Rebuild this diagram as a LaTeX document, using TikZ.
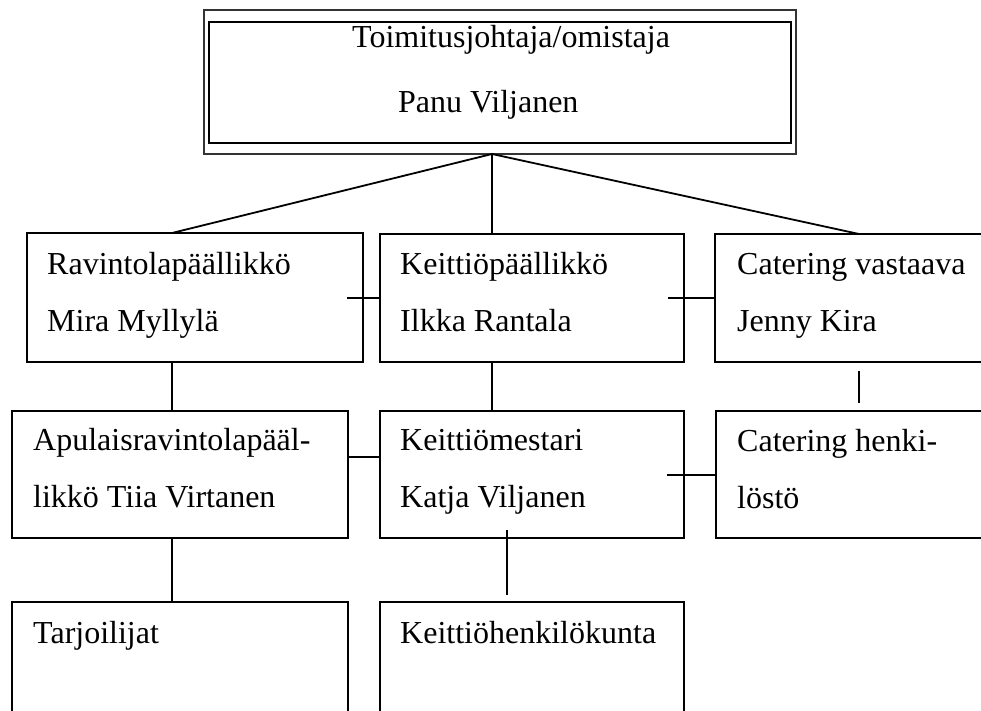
\documentclass[tikz,border=0pt]{standalone}
\usepackage{fontspec}
\setmainfont{Liberation Serif}
\usetikzlibrary{calc}
\begin{document}
\begin{tikzpicture}[x=1pt,y=-1pt,
  box/.style={draw=black, line width=1.8pt, inner sep=0pt, outer sep=0pt, rectangle},
  conn/.style={draw=black, line width=1.8pt},
  lbl/.style={anchor=base west, inner sep=0pt, font=\fontsize{32}{38}\selectfont}]
\useasboundingbox (0,0) rectangle (981,711);
\clip (0,0) rectangle (981,711);
% top box (double frame)
\node[box, draw=black!80, line width=1.5pt, minimum width=592pt, minimum height=144pt] (topo) at (500,82) {};
\node[box, line width=2.2pt, minimum width=582pt, minimum height=121pt] (topi) at (500,82.5) {};
\node[lbl] (t1) at (352,48) {Toimitusjohtaja/omistaja};
\node[lbl] (t2) at (398,113) {Panu Viljanen};
% row 1
\node[box, minimum width=336pt, minimum height=129pt] (rav) at (195,297.5) {};
\node[box, minimum width=304pt, minimum height=128pt] (kp) at (532,298) {};
\node[box, minimum width=285pt, minimum height=128pt] (cat) at (857.5,298) {};
% row 2
\node[box, minimum width=336pt, minimum height=127pt] (apu) at (180,474.5) {};
\node[box, minimum width=304pt, minimum height=127pt] (km) at (532,474.5) {};
\node[box, minimum width=284pt, minimum height=127pt] (ch) at (858,474.5) {};
% row 3
\node[box, minimum width=336pt, minimum height=118pt] (tar) at (180,661) {};
\node[box, minimum width=304pt, minimum height=118pt] (kh) at (532,661) {};
% texts
\node[lbl] at (47,274) {Ravintolapäällikkö};
\node[lbl] at (47,331) {Mira Myllylä};
\node[lbl] at (400,274) {Keittiöpäällikkö};
\node[lbl] at (400,331) {Ilkka Rantala};
\node[lbl] at (737,274) {Catering vastaava};
\node[lbl] at (737,331) {Jenny Kira};
\node[lbl] at (33,450) {Apulaisravintolapääl-};
\node[lbl] at (33,507) {likkö Tiia Virtanen};
\node[lbl] at (400,450) {Keittiömestari};
\node[lbl] at (400,507) {Katja Viljanen};
\node[lbl] at (737,451) {Catering henki-};
\node[lbl] at (737,508) {löstö};
\node[lbl] at (33,643) {Tarjoilijat};
\node[lbl] at (400,643) {Keittiöhenkilökunta};
% connectors
\coordinate (apex) at ($(topo.south)+(-8,0)$);
\draw[conn] (apex) -- ($(rav.north west)+(145,0)$);
\draw[conn] (apex) -- ($(kp.north west)+(112,0)$);
\draw[conn] (apex) -- ($(cat.north west)+(144,0)$);
\draw[conn] ($(rav.south west)+(145,0)$) -- ($(apu.north west)+(160,0)$);
\draw[conn] ($(kp.south west)+(112,0)$) -- ($(km.north west)+(112,0)$);
\draw[conn] ($(cat.south west)+(144,9)$) -- ($(ch.north west)+(143,-8)$);
\draw[conn] ($(apu.south west)+(160,0)$) -- ($(tar.north west)+(160,0)$);
\draw[conn] ($(km.south west)+(127,-8)$) -- ($(kh.north west)+(127,-7)$);
\draw[conn] ($(rav.east)+(-16,0.5)$) -- (kp.west);
\draw[conn] ($(kp.east)+(-16,0)$) -- (cat.west);
\draw[conn] ($(apu.east)+(0,-17.5)$) -- ($(km.west)+(0,-17.5)$);
\draw[conn] ($(km.east)+(-17,0.5)$) -- ($(ch.west)+(0,0.5)$);
\end{tikzpicture}
\end{document}
